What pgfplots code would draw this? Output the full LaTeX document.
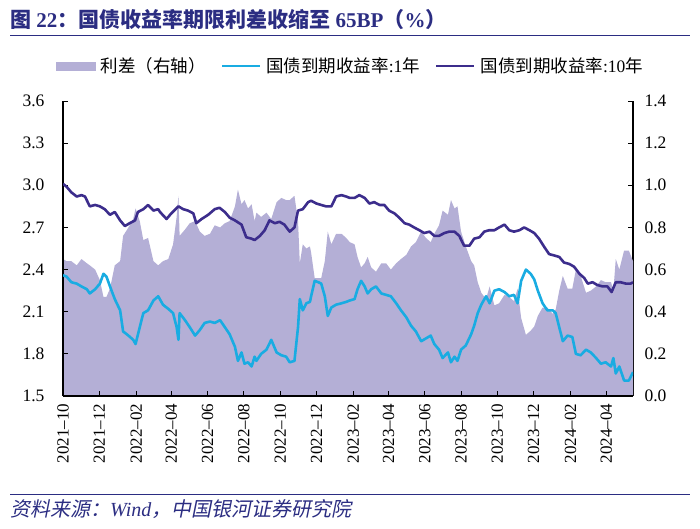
\documentclass[border=0pt]{standalone}
\usepackage{fontspec}
\setmainfont{Liberation Serif}
\newfontfamily\cjk{Noto Sans CJK SC}
\newfontfamily\cjkb{Noto Sans CJK SC Bold}
\newfontfamily\cjki{Noto Sans CJK SC}[FakeSlant=0.2]
\usepackage{pgfplots}
\pgfplotsset{compat=1.18}
\usepackage{pgfplotstable}
\definecolor{navy}{RGB}{43,45,130}
\definecolor{sprdcol}{RGB}{180,175,214}
\definecolor{oneycol}{RGB}{25,172,226}
\definecolor{tenycol}{RGB}{60,45,140}

\pgfplotstableread{
d v sp
0 2.36 0.65
6 2.35 0.64
14 2.31 0.64
23 2.30 0.62
31 2.28 0.65
40 2.26 0.63
45 2.23 0.62
54 2.26 0.60
62 2.30 0.55
68 2.37 0.47
73 2.35 0.47
79 2.28 0.51
87 2.19 0.62
96 2.11 0.64
101 1.96 0.76
110 1.93 0.80
118 1.90 0.84
122 1.87 0.89
129 1.99 0.83
135 2.09 0.74
143 2.11 0.75
152 2.18 0.64
160 2.21 0.62
168 2.15 0.64
177 2.12 0.65
185 2.09 0.72
191 1.99 0.85
194 1.90 0.95
196 2.09 0.76
205 2.04 0.79
213 1.99 0.82
222 1.93 0.83
230 1.97 0.78
238 2.02 0.76
247 2.03 0.77
255 2.02 0.81
264 2.04 0.80
272 1.99 0.82
280 1.94 0.83
289 1.85 0.90
294 1.75 0.98
300 1.81 0.91
305 1.73 0.93
311 1.74 0.89
317 1.71 0.91
322 1.78 0.83
325 1.75 0.87
333 1.80 0.85
342 1.83 0.87
350 1.90 0.84
359 1.81 0.92
367 1.79 0.94
375 1.78 0.93
381 1.74 0.93
389 1.75 0.95
395 1.99 0.83
398 2.19 0.63
403 2.11 0.72
409 2.16 0.70
415 2.17 0.71
417 2.21 0.68
423 2.32 0.56
429 2.31 0.56
434 2.30 0.56
440 2.21 0.64
445 2.07 0.78
451 2.13 0.72
459 2.15 0.77
468 2.16 0.77
476 2.17 0.75
482 2.18 0.73
490 2.19 0.72
495 2.26 0.66
501 2.32 0.61
507 2.28 0.63
512 2.23 0.66
518 2.26 0.61
526 2.28 0.59
535 2.23 0.63
543 2.22 0.63
551 2.21 0.60
560 2.16 0.63
568 2.11 0.65
577 2.06 0.67
585 2.00 0.71
593 1.96 0.73
602 1.89 0.78
610 1.91 0.75
618 1.93 0.73
624 1.87 0.77
632 1.83 0.81
638 1.77 0.88
647 1.81 0.86
652 1.74 0.93
658 1.78 0.89
663 1.75 0.90
669 1.83 0.78
677 1.86 0.71
686 1.94 0.64
691 2.00 0.62
697 2.09 0.54
703 2.15 0.49
711 2.21 0.46
717 2.16 0.52
725 2.25 0.43
733 2.26 0.44
742 2.24 0.48
750 2.21 0.47
758 2.22 0.45
764 2.16 0.51
770 2.32 0.37
778 2.40 0.29
786 2.37 0.31
792 2.33 0.33
798 2.25 0.38
806 2.16 0.42
814 2.11 0.42
823 2.11 0.39
828 2.09 0.41
834 1.99 0.50
840 1.89 0.57
848 1.93 0.51
856 1.92 0.51
862 1.80 0.60
870 1.79 0.57
879 1.83 0.49
887 1.81 0.50
896 1.77 0.52
904 1.73 0.55
912 1.74 0.54
921 1.71 0.54
925 1.77 0.50
929 1.66 0.65
935 1.71 0.60
943 1.61 0.69
951 1.61 0.69
958 1.67 0.64
}\oneytab

\pgfplotstableread{
d v
0 3.01
6 2.99
14 2.95
23 2.92
31 2.93
37 2.92
45 2.85
54 2.86
62 2.85
70 2.83
79 2.79
87 2.81
96 2.75
104 2.71
112 2.73
121 2.75
126 2.81
135 2.83
143 2.86
152 2.82
160 2.83
163 2.81
174 2.76
182 2.80
194 2.85
202 2.83
210 2.82
219 2.80
224 2.73
233 2.76
244 2.79
255 2.83
263 2.84
272 2.81
280 2.77
289 2.75
300 2.72
308 2.63
317 2.62
322 2.61
331 2.64
339 2.68
347 2.75
356 2.73
364 2.74
372 2.72
381 2.67
389 2.70
395 2.82
403 2.83
412 2.88
417 2.89
426 2.87
434 2.86
442 2.85
451 2.85
459 2.92
468 2.93
476 2.92
482 2.91
490 2.91
498 2.93
507 2.91
515 2.87
523 2.88
532 2.86
540 2.86
548 2.82
557 2.80
565 2.77
574 2.73
582 2.72
590 2.70
599 2.68
607 2.66
616 2.67
624 2.64
632 2.64
641 2.66
649 2.67
658 2.67
666 2.64
674 2.57
683 2.57
691 2.62
700 2.63
708 2.67
716 2.68
725 2.68
733 2.70
742 2.72
750 2.68
758 2.67
767 2.68
775 2.70
784 2.68
792 2.66
800 2.62
809 2.56
817 2.51
826 2.50
834 2.49
842 2.45
851 2.44
859 2.42
868 2.37
876 2.34
882 2.30
890 2.31
898 2.29
907 2.28
915 2.28
922 2.24
929 2.31
937 2.31
946 2.30
954 2.30
958 2.31
}\tenytab

\begin{document}
\begin{tikzpicture}[x=1pt,y=1pt]
\path[use as bounding box] (0,0) rectangle (700,-529);
\node[anchor=west, text=navy, inner sep=0pt, font=\fontsize{21}{21}\selectfont\bfseries] at (10,-20)
  {{\cjkb 图} 22{\cjkb ：国债收益率期限利差收缩至} 65BP{\cjkb （}\%{\cjkb ）}};
\draw[navy, line width=1pt] (10,-36) -- (690,-36);
\draw[navy, line width=1pt] (10,-494) -- (690,-494);
\node[anchor=west, text=navy, inner sep=0pt, font=\fontsize{20}{20}\selectfont] at (10,-509)
  {{\cjki 资料来源：}\textit{Wind}{\cjki ，中国银河证券研究院}};

\pgfplotsset{
  mybase/.style={
    at={(63pt,-396pt)}, anchor=south west, scale only axis,
    width=570pt, height=295pt,
    xmin=0, xmax=958,
    tick align=inside, major tick length=5pt,
    tick style={black, line width=0.9pt},
    axis line style={black, line width=1.1pt},
    ticklabel style={font=\fontsize{17.5}{17.5}\selectfont},
    /pgf/number format/.cd, fixed, fixed zerofill, precision=1, assume math mode=true,
  }
}

\begin{axis}[mybase,
  ymin=0, ymax=1.4,
  axis x line=none, axis y line*=right,
  ytick={0,0.2,0.4,0.6,0.8,1.0,1.2,1.4},
  yticklabel style={xshift=8pt},
]
\addplot[draw=none, fill=sprdcol] table[x=d, y=sp] \oneytab \closedcycle;
\end{axis}

\begin{axis}[mybase,
  ymin=1.5, ymax=3.6,
  axis x line*=bottom, axis y line*=left,
  ytick={1.5,1.8,2.1,2.4,2.7,3.0,3.3,3.6},
  yticklabel style={xshift=-15pt},
  xtick={0,61,123,182,243,304,365,426,488,547,608,669,730,791,853,913},
  xticklabels={2021--10,2021--12,2022--02,2022--04,2022--06,2022--08,2022--10,2022--12,2023--02,2023--04,2023--06,2023--08,2023--10,2023--12,2024--02,2024--04},
  xticklabel style={rotate=90, anchor=east, font=\fontsize{17}{17}\selectfont},
  xticklabel shift=4pt,
  legend columns=3,
  legend style={draw=none, fill=none, inner sep=0pt, at={(-0.012,1.119)}, anchor=west,
    font=\fontsize{17.5}{17.5}\selectfont,
    /tikz/every odd column/.append style={column sep=3pt},
    /tikz/every even column/.append style={column sep=13pt}},
  legend cell align=left,
  legend image code/.code={\draw[#1] (0pt,0pt) -- (38pt,0pt);},
]
\addlegendimage{legend image code/.code={\fill[sprdcol] (0pt,-4pt) rectangle (39pt,4pt);}}
\addlegendentry{{\cjk 利差（右轴）}}
\addplot[oneycol, line width=2.6pt, line join=round] table[x=d, y=v] \oneytab;
\addlegendentry{{\cjk 国债到期收益率}:1{\cjk 年}}
\addplot[tenycol, line width=2.6pt, line join=round] table[x=d, y=v] \tenytab;
\addlegendentry{{\cjk 国债到期收益率}:10{\cjk 年}}
\end{axis}
\end{tikzpicture}
\end{document}
